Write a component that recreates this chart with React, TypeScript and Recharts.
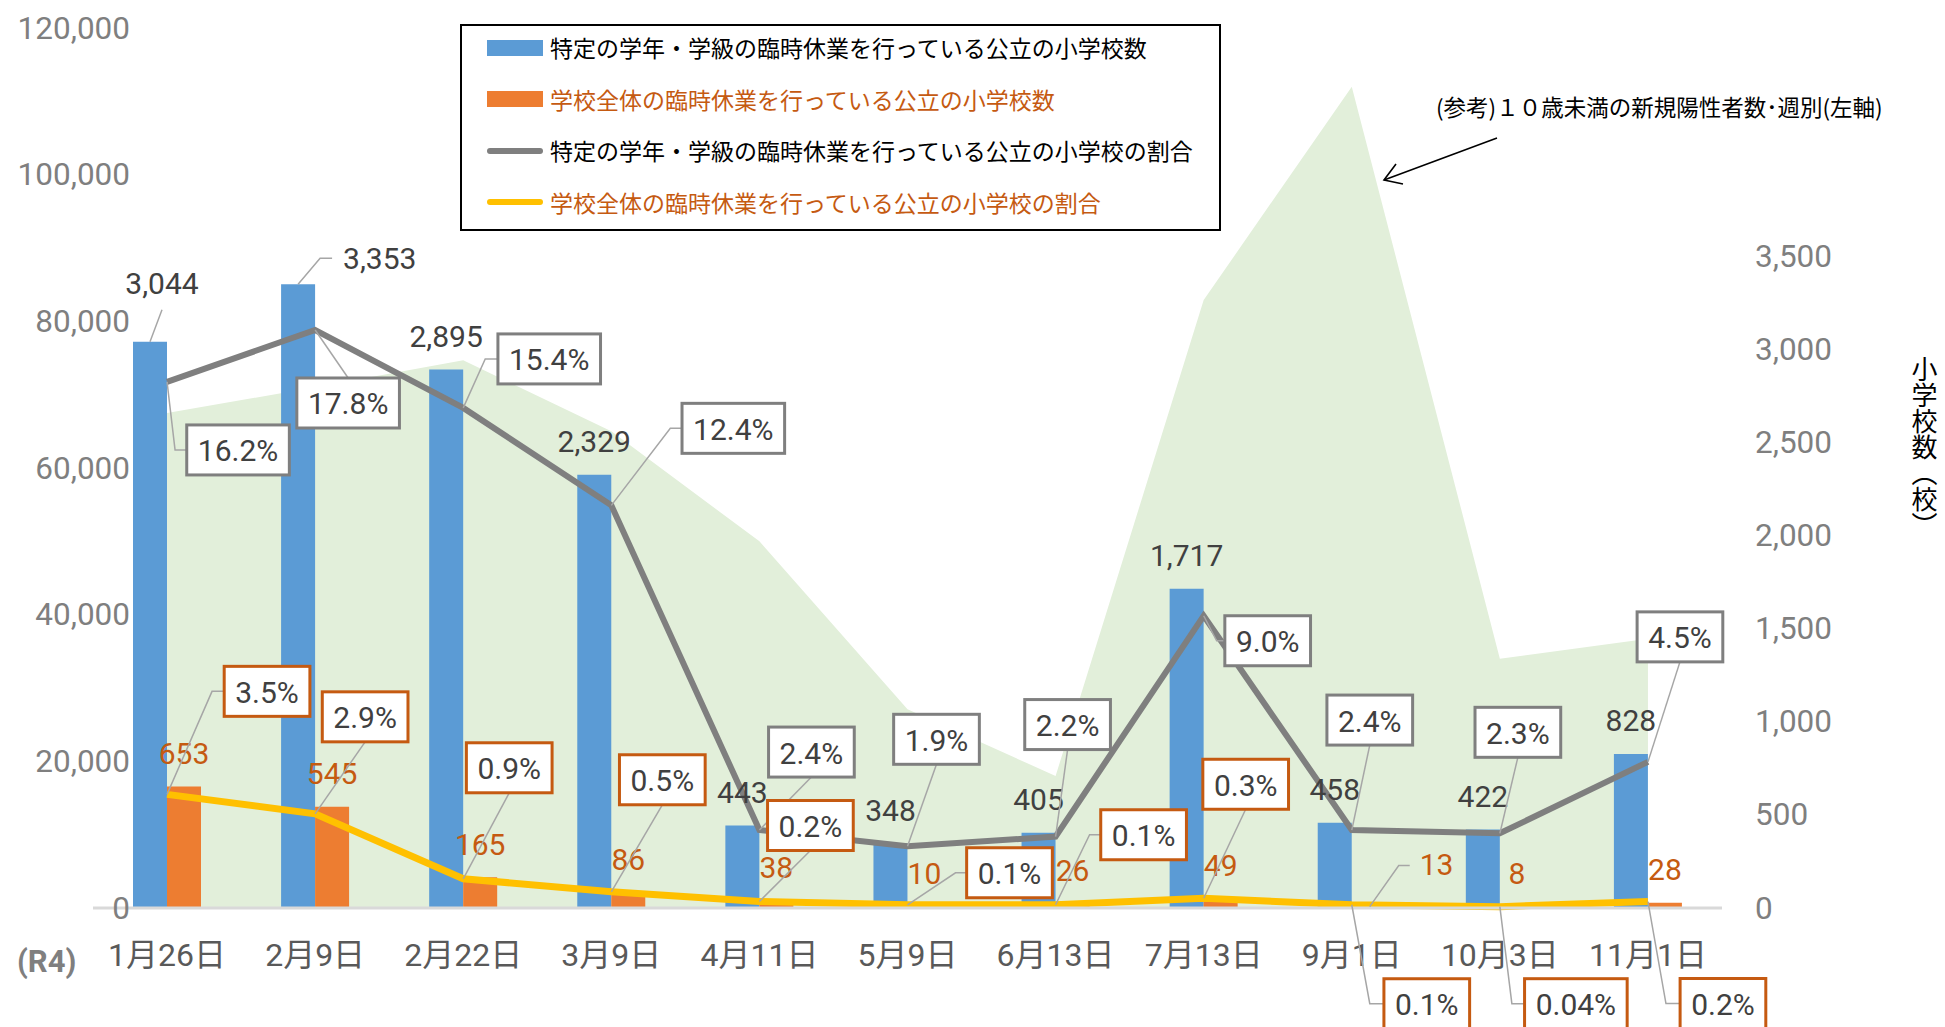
import React from 'react';
import { ComposedChart, Area, Bar, Line, XAxis, YAxis, LabelList } from 'recharts';

// data
const dates = ['1月26日', '2月9日', '2月22日', '3月9日', '4月11日', '5月9日', '6月13日', '7月13日', '9月1日', '10月3日', '11月1日'];
const partialClosures = [3044, 3353, 2895, 2329, 443, 348, 405, 1717, 458, 422, 828];
const wholeClosures = [653, 545, 165, 86, 38, 10, 26, 49, 13, 8, 28];
const partialRatio = [16.2, 17.8, 15.4, 12.4, 2.4, 1.9, 2.2, 9.0, 2.4, 2.3, 4.5];
const wholeRatio = [3.5, 2.9, 0.9, 0.5, 0.2, 0.1, 0.1, 0.3, 0.1, 0.04, 0.2];
const casesUnder10 = [67500, 71000, 74700, 65000, 50000, 27100, 18000, 82900, 112000, 34000, 36700];
const leftTicks = [0, 20000, 40000, 60000, 80000, 100000, 120000];
const rightTicks = [0, 500, 1000, 1500, 2000, 2500, 3000, 3500];

const rows = dates.map((d, i) => ({
  date: d,
  cases: casesUnder10[i],
  partial: partialClosures[i],
  whole: wholeClosures[i],
  partialPct: partialRatio[i],
  wholePct: wholeRatio[i],
}));

// label placement: box centre offset from point, optional elbow x
const greyBoxPlace: [number, number, number | null][] = [
  [71, 68, 8], [33, 73, null], [86, -49, 22], [122, -77, 59], [52, -78, null], [29, -107, null],
  [12, -112, null], [64, 25, 13], [18, -110, null], [18, -101, null], [32, -125, null],
];
const yellowBoxPlace: [number, number, number | null][] = [
  [100, -103, 45], [50, -97, null], [46, -111, null], [51, -112, null], [51, -76, null], [102, -32, 48],
  [88, -70, 34], [42, -114, null], [75, 99, 18], [76, 97, 12], [75, 102, 18],
];
const blueCallouts: Record<number, { dx: number; dy: number; anchor: 'start' | 'middle'; path: number[][] }> = {
  0: { dx: 12, dy: -58, anchor: 'middle', path: [[0, 0], [12, -32]] },
  1: { dx: 45, dy: -26, anchor: 'start', path: [[0, 0], [22, -26], [34, -26]] },
};
const orangeCallouts: typeof blueCallouts = {
  8: { dx: 51, dy: -41, anchor: 'start', path: [[1, 1], [30, -40], [41, -40]] },
};

const NUM = "Roboto, 'Noto Sans CJK JP', sans-serif";
const JP = "'Noto Sans CJK JP', sans-serif";

const fmtPct = (v: number) => (v < 0.1 ? v.toFixed(2) : v.toFixed(1)) + '%';
const textW = (s: string) =>
  s.split('').reduce((w, c) => w + (c === '.' ? 7.9 : c === '%' ? 22 : c === ',' ? 7 : 16.9), 0);

const LeftTick = (p: any) => (
  <text x={130} y={p.y} textAnchor="end" dominantBaseline="central" fontSize={31.5} fill="#7F7F7F" fontFamily={NUM}>
    {Number(p.payload.value).toLocaleString('en-US')}
  </text>
);
const RightTick = (p: any) => (
  <text x={1755} y={p.y} textAnchor="start" dominantBaseline="central" fontSize={31.5} fill="#7F7F7F" fontFamily={NUM}>
    {Number(p.payload.value).toLocaleString('en-US')}
  </text>
);
const DateTick = (p: any) => (
  <text x={p.x} y={955} textAnchor="middle" dominantBaseline="central" fontSize={32} fill="#595959" fontFamily={NUM}>
    {p.payload.value}
  </text>
);

const pctBox = (place: [number, number, number | null][], border: string) => (props: any) => {
  const { x, y, value, index } = props;
  if (x == null || y == null) return null;
  const [dx, dy, ex] = place[index];
  const label = fmtPct(Number(value));
  const w = textW(label) + 22;
  const h = 50;
  const cx = x + dx;
  const cy = y + dy;
  const left = cx - w / 2;
  let pts: number[][];
  if (ex != null) pts = [[x, y], [x + ex, cy], [left, cy]];
  else pts = [[x, y], [cx, dy < 0 ? cy + h / 2 : cy - h / 2]];
  return (
    <g>
      <polyline points={pts.map((p) => p.join(',')).join(' ')} fill="none" stroke="#A6A6A6" strokeWidth={1.5} />
      <rect x={left} y={cy - h / 2} width={w} height={h} fill="#fff" stroke={border} strokeWidth={3} />
      <text x={cx} y={cy + 1} textAnchor="middle" dominantBaseline="central" fontSize={30} fill="#404040" fontFamily={NUM}>
        {label}
      </text>
    </g>
  );
};

const barValue = (color: string, callouts: typeof blueCallouts) => (props: any) => {
  const { x, y, width, value, index } = props;
  const cx = x + width / 2;
  const c = callouts[index];
  const txt = Number(value).toLocaleString('en-US');
  if (!c) {
    return (
      <text x={cx} y={y - 33} textAnchor="middle" dominantBaseline="central" fontSize={30} fill={color} fontFamily={NUM}>
        {txt}
      </text>
    );
  }
  return (
    <g>
      <polyline points={c.path.map((p) => `${cx + p[0]},${y + p[1]}`).join(' ')} fill="none" stroke="#A6A6A6" strokeWidth={1.5} />
      <text x={cx + c.dx} y={y + c.dy} textAnchor={c.anchor} dominantBaseline="central" fontSize={30} fill={color} fontFamily={NUM}>
        {txt}
      </text>
    </g>
  );
};

const legendItems = [
  { label: '特定の学年・学級の臨時休業を行っている公立の小学校数', color: '#5B9BD5', kind: 'bar', text: '#000' },
  { label: '学校全体の臨時休業を行っている公立の小学校数', color: '#ED7D31', kind: 'bar', text: '#C55A11' },
  { label: '特定の学年・学級の臨時休業を行っている公立の小学校の割合', color: '#7F7F7F', kind: 'line', text: '#000' },
  { label: '学校全体の臨時休業を行っている公立の小学校の割合', color: '#FFC000', kind: 'line', text: '#C55A11' },
];

export default function App() {
  return (
    <div style={{ position: 'absolute', left: 0, top: 0, width: 1945, height: 1027, background: '#fff' }}>
      <ComposedChart
        width={1945}
        height={1027}
        data={rows}
        margin={{ top: 28, right: 123, bottom: 59, left: 13 }}
        barGap={0}
      >
        <XAxis
          dataKey="date"
          height={60}
          interval={0}
          tickLine={false}
          axisLine={{ stroke: '#D9D9D9', strokeWidth: 3 }}
          tick={DateTick}
        />
        <YAxis yAxisId="left" width={80} domain={[0, 120000]} ticks={leftTicks} axisLine={false} tickLine={false} tick={LeftTick} />
        <YAxis
          yAxisId="right"
          orientation="right"
          width={100}
          domain={[0, 4731]}
          ticks={rightTicks}
          axisLine={false}
          tickLine={false}
          tick={RightTick}
        />
        <YAxis yAxisId="pct" hide domain={[0, 27.1]} />
        <Area yAxisId="left" dataKey="cases" type="linear" fill="#E2EFDA" fillOpacity={1} stroke="none" isAnimationActive={false} />
        <Bar yAxisId="right" dataKey="partial" fill="#5B9BD5" barSize={34} isAnimationActive={false}>
          <LabelList dataKey="partial" content={barValue('#404040', blueCallouts)} />
        </Bar>
        <Bar yAxisId="right" dataKey="whole" fill="#ED7D31" barSize={34} isAnimationActive={false}>
          <LabelList dataKey="whole" content={barValue('#C55A11', orangeCallouts)} />
        </Bar>
        <Line yAxisId="pct" dataKey="partialPct" type="linear" stroke="#7F7F7F" strokeWidth={6} dot={false} isAnimationActive={false}>
          <LabelList dataKey="partialPct" content={pctBox(greyBoxPlace, '#7F7F7F')} />
        </Line>
        <Line yAxisId="pct" dataKey="wholePct" type="linear" stroke="#FFC000" strokeWidth={7} dot={false} isAnimationActive={false}>
          <LabelList dataKey="wholePct" content={pctBox(yellowBoxPlace, '#C55A11')} />
        </Line>
      </ComposedChart>

      {/* legend */}
      <div
        style={{
          position: 'absolute',
          left: 460,
          top: 24,
          width: 761,
          height: 207,
          boxSizing: 'border-box',
          border: '2px solid #000',
          background: '#fff',
          fontFamily: JP,
          fontSize: 23,
        }}
      >
        {legendItems.map((it, i) => (
          <div key={i} style={{ position: 'absolute', left: 0, top: i * 51.5 - 4, height: 51.5, display: 'flex', alignItems: 'center' }}>
            <div style={{ width: 25 }} />
            {it.kind === 'bar' ? (
              <div style={{ width: 56, height: 16, background: it.color }} />
            ) : (
              <div style={{ width: 56, height: 6, borderRadius: 3, background: it.color }} />
            )}
            <span style={{ marginLeft: 7, color: it.text, whiteSpace: 'nowrap', lineHeight: 1 }}>{it.label}</span>
          </div>
        ))}
      </div>

      {/* right axis title */}
      <div
        style={{
          position: 'absolute',
          left: 1911,
          top: 356,
          writingMode: 'vertical-rl',
          fontFamily: JP,
          fontSize: 26,
          color: '#000',
          lineHeight: 1,
        }}
      >
        小学校数（校）
      </div>

      <svg width={1945} height={1027} style={{ position: 'absolute', left: 0, top: 0, pointerEvents: 'none' }}>
        <text x={1436} y={116} fontSize={22.5} fontFamily={JP} fill="#000">
          (参考)１０歳未満の新規陽性者数･週別(左軸)
        </text>
        <g stroke="#000" strokeWidth={1.6} fill="none">
          <line x1={1497} y1={138} x2={1384} y2={180} />
          <polyline points="1396,164 1384,180 1403,184" />
        </g>
        <text x={17} y={961} dominantBaseline="central" fontSize={31} fontWeight={700} fontFamily={NUM} fill="#7F7F7F">
          (R4)
        </text>
      </svg>
    </div>
  );
}
